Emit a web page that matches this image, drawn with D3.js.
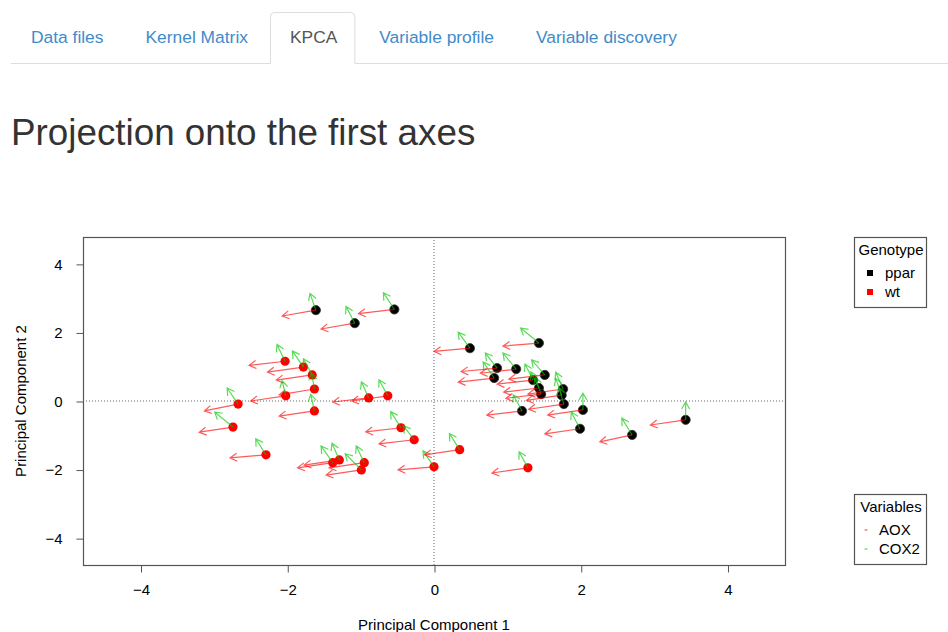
<!DOCTYPE html>
<html>
<head>
<meta charset="utf-8">
<script src="https://cdn.jsdelivr.net/npm/d3@7"></script>
<style>
  body { margin: 0; background: #fff; }
  svg { display: block; font-family: "Liberation Sans", Arial, sans-serif; }
</style>
</head>
<body>
<svg width="948" height="632"></svg>
<script>
// вкладки и заголовок
const tabs = ["Data files", "Kernel Matrix", "KPCA", "Variable profile", "Variable discovery"];
const activeTab = "KPCA";
const title = "Projection onto the first axes";

// подписи осей и легенд
const axisTicks = [-4, -2, 0, 2, 4];
const xLabel = "Principal Component 1";
const yLabel = "Principal Component 2";
const genotypes = ["ppar", "wt"];
const variables = ["AOX", "COX2"];

// ppar - координаты проекции
const pparPC1 = [-1.61, -1.08, -0.54, 0.49, 1.43, 0.86, 1.12, 0.82, 1.51, 1.35, 1.43, 1.46, 1.76, 1.74, 1.77, 1.20, 2.03, 3.43, 1.99, 2.70];
const pparPC2 = [2.65, 2.27, 2.67, 1.54, 1.69, 0.96, 0.93, 0.67, 0.76, 0.61, 0.38, 0.20, 0.35, 0.17, -0.09, -0.29, -0.26, -0.55, -0.81, -0.99];
// ppar - стрелки переменных (смещение от точки)
const pparAoxDx = [-0.46, -0.46, -0.49, -0.49, -0.49, -0.49, -0.49, -0.49, -0.49, -0.49, -0.48, -0.48, -0.48, -0.48, -0.48, -0.48, -0.48, -0.48, -0.48, -0.44];
const pparAoxDy = [-0.17, -0.17, -0.12, -0.09, -0.09, -0.10, -0.12, -0.12, -0.12, -0.12, -0.12, -0.12, -0.15, -0.15, -0.15, -0.12, -0.15, -0.15, -0.15, -0.20];
const pparCox2Dx = [-0.08, -0.12, -0.15, -0.16, -0.25, -0.16, -0.18, -0.15, -0.18, -0.11, -0.11, -0.08, -0.10, -0.08, -0.07, -0.12, 0.00, 0.00, -0.12, -0.14];
const pparCox2Dy = [0.49, 0.49, 0.49, 0.47, 0.44, 0.44, 0.47, 0.47, 0.44, 0.47, 0.47, 0.49, 0.49, 0.49, 0.49, 0.47, 0.49, 0.52, 0.49, 0.49];

// wt - координаты проекции
const wtPC1 = [-2.03, -1.78, -1.66, -1.63, -2.02, -2.67, -0.89, -0.63, -1.63, -2.74, -2.29, -0.45, -0.27, 0.00, -1.38, -1.29, -0.95, -0.99, 0.35, 1.28];
const wtPC2 = [1.16, 0.99, 0.76, 0.35, 0.15, -0.09, 0.09, 0.15, -0.29, -0.76, -1.57, -0.78, -1.13, -1.92, -1.80, -1.72, -1.80, -2.01, -1.42, -1.95];
const wtAoxDx = [-0.49, -0.49, -0.49, -0.48, -0.48, -0.46, -0.49, -0.49, -0.48, -0.46, -0.49, -0.48, -0.48, -0.49, -0.48, -0.48, -0.48, -0.48, -0.48, -0.49];
const wtAoxDy = [-0.12, -0.15, -0.15, -0.17, -0.15, -0.20, -0.12, -0.15, -0.15, -0.15, -0.09, -0.12, -0.12, -0.09, -0.15, -0.15, -0.15, -0.15, -0.15, -0.15];
const wtCox2Dx = [-0.11, -0.15, -0.12, -0.04, -0.05, -0.15, -0.10, -0.12, -0.05, -0.25, -0.14, -0.14, -0.15, -0.15, -0.16, -0.10, -0.11, -0.22, -0.14, -0.12];
const wtCox2Dy = [0.49, 0.47, 0.47, 0.47, 0.44, 0.47, 0.47, 0.47, 0.49, 0.44, 0.47, 0.47, 0.41, 0.47, 0.49, 0.49, 0.49, 0.47, 0.47, 0.47];

const genoColor = { ppar: "#000000", wt: "#ff0000" };
const varColor = { AOX: "rgba(255,0,0,0.65)", COX2: "rgba(0,200,0,0.65)" };

function buildPoints(geno, pc1, pc2, aDx, aDy, cDx, cDy) {
  return pc1.map((x, i) => ({
    geno: geno, x: x, y: pc2[i],
    arrows: [
      { v: "AOX", dx: aDx[i], dy: aDy[i] },
      { v: "COX2", dx: cDx[i], dy: cDy[i] }
    ]
  }));
}

const points = [
  ...buildPoints("ppar", pparPC1, pparPC2, pparAoxDx, pparAoxDy, pparCox2Dx, pparCox2Dy),
  ...buildPoints("wt", wtPC1, wtPC2, wtAoxDx, wtAoxDy, wtCox2Dx, wtCox2Dy)
];

const svg = d3.select("svg");

function drawTabs() {
  const g = svg.append("g");
  const fs = 17.4, padX = 19, gap = 4, top = 12, bottom = 63;
  let x = 11;
  g.append("line")
    .attr("x1", 11).attr("x2", 948).attr("y1", bottom + 0.5).attr("y2", bottom + 0.5)
    .attr("stroke", "#ddd");
  tabs.forEach(t => {
    const txt = g.append("text")
      .attr("x", x + padX + 1).attr("y", 43)
      .attr("font-size", fs)
      .attr("fill", t === activeTab ? "#555" : "#428bca")
      .text(t);
    const w = txt.node().getComputedTextLength() + 2 * padX;
    if (t === activeTab) {
      const r = 4, x0 = x + 0.5, x1 = x + w - 0.5, y0 = top + 0.5, y1 = bottom + 0.5;
      g.insert("path", "text")
        .attr("d", `M${x0},${y1} V${y0 + r} Q${x0},${y0} ${x0 + r},${y0} H${x1 - r} Q${x1},${y0} ${x1},${y0 + r} V${y1}`)
        .attr("fill", "#fff").attr("stroke", "#ddd");
      g.insert("line", "text")
        .attr("x1", x1 - 0.5).attr("x2", x0 + 0.5).attr("y1", y1).attr("y2", y1)
        .attr("stroke", "#fff");
    }
    x += w + gap;
  });
}

function drawTitle() {
  svg.append("text")
    .attr("x", 11).attr("y", 145)
    .attr("font-size", 36.8)
    .attr("fill", "#333")
    .text(title);
}

function drawPlot() {
  const area = { left: 83, right: 785, top: 237, bottom: 565 };
  const lim = 4.6 * 1.04;
  const scX = d3.scaleLinear().domain([-lim, lim]).range([area.left, area.right]);
  const scY = d3.scaleLinear().domain([-lim, lim]).range([area.bottom, area.top]);
  const fs = 15;

  // рамка
  svg.append("rect")
    .attr("x", area.left + 0.5).attr("y", area.top + 0.5)
    .attr("width", area.right - area.left).attr("height", area.bottom - area.top)
    .attr("fill", "none").attr("stroke", "#555").attr("stroke-width", 1.2);

  // оси
  const axisX = d3.axisBottom(scX).tickValues(axisTicks).tickSize(7).tickSizeOuter(0).tickPadding(12);
  const gx = svg.append("g").attr("transform", `translate(0.5, ${area.bottom + 0.5})`).call(axisX);
  gx.select(".domain").attr("d", `M${scX(-4)},0H${scX(4)}`).attr("stroke", "#555");
  gx.selectAll("line").attr("stroke", "#555");
  gx.selectAll("text").attr("font-size", fs).attr("font-family", null).attr("fill", "#000");

  const axisY = d3.axisLeft(scY).tickValues(axisTicks).tickSize(7).tickSizeOuter(0).tickPadding(14);
  const gy = svg.append("g").attr("transform", `translate(${area.left + 0.5}, 0.5)`).call(axisY);
  gy.select(".domain").attr("d", `M0,${scY(-4)}V${scY(4)}`).attr("stroke", "#555");
  gy.selectAll("line").attr("stroke", "#555");
  gy.selectAll("text").attr("font-size", fs).attr("font-family", null).attr("fill", "#000");

  // подписи осей
  svg.append("text")
    .attr("x", (area.left + area.right) / 2).attr("y", 630)
    .attr("text-anchor", "middle").attr("font-size", fs)
    .text(xLabel);
  svg.append("text")
    .attr("transform", `translate(26, ${(area.top + area.bottom) / 2}) rotate(-90)`)
    .attr("text-anchor", "middle").attr("font-size", fs)
    .text(yLabel);

  // пунктир через ноль
  svg.append("line")
    .attr("x1", scX(0)).attr("x2", scX(0)).attr("y1", area.top).attr("y2", area.bottom)
    .attr("stroke", "#666").attr("stroke-dasharray", "1,2");
  svg.append("line")
    .attr("x1", area.left).attr("x2", area.right).attr("y1", scY(0)).attr("y2", scY(0))
    .attr("stroke", "#666").attr("stroke-dasharray", "1,2");

  // точки
  svg.append("g").selectAll("circle")
    .data(points)
    .enter()
    .append("circle")
    .attr("cx", d => scX(d.x))
    .attr("cy", d => scY(d.y))
    .attr("r", 4.6)
    .attr("fill", d => genoColor[d.geno])
    .attr("stroke", d => d.geno === "ppar" ? "#333" : "none")
    .attr("stroke-width", 0.8);

  // стрелки
  const headLen = 8, headAng = Math.PI / 6;
  const arrows = points.flatMap(p => p.arrows.map(a => ({ p: p, a: a })));
  svg.append("g").selectAll("path")
    .data(arrows)
    .enter()
    .append("path")
    .attr("d", d => {
      const x0 = scX(d.p.x), y0 = scY(d.p.y);
      const x1 = scX(d.p.x + d.a.dx), y1 = scY(d.p.y + d.a.dy);
      const ang = Math.atan2(y1 - y0, x1 - x0);
      const hx1 = x1 - headLen * Math.cos(ang - headAng), hy1 = y1 - headLen * Math.sin(ang - headAng);
      const hx2 = x1 - headLen * Math.cos(ang + headAng), hy2 = y1 - headLen * Math.sin(ang + headAng);
      return `M${x0},${y0}L${x1},${y1}M${hx1},${hy1}L${x1},${y1}L${hx2},${hy2}`;
    })
    .attr("fill", "none")
    .attr("stroke", d => varColor[d.a.v])
    .attr("stroke-width", 1.2);

  // легенды
  drawLegend(854, 237, "Genotype", genotypes, 16, 31, (g, key, cx, cy) => {
    g.append("rect")
      .attr("x", cx - 3).attr("y", cy - 3).attr("width", 6).attr("height", 6)
      .attr("fill", genoColor[key]);
  });
  drawLegend(854, 494, "Variables", variables, 12, 25, (g, key, cx, cy) => {
    g.append("line")
      .attr("x1", cx - 1.5).attr("x2", cx + 1.5).attr("y1", cy).attr("y2", cy)
      .attr("stroke", varColor[key]).attr("stroke-width", 1.2);
  });
}

function drawLegend(x, y, head, keys, markX, textX, marker) {
  const g = svg.append("g");
  const w = 72, h = 70, fs = 15;
  g.append("rect")
    .attr("x", x + 0.5).attr("y", y + 0.5).attr("width", w).attr("height", h)
    .attr("fill", "#fff").attr("stroke", "#555").attr("stroke-width", 1.2);
  g.append("text")
    .attr("x", x + w / 2 + 1).attr("y", y + 18)
    .attr("text-anchor", "middle").attr("font-size", fs)
    .text(head);
  keys.forEach((k, i) => {
    const cy = y + 36 + i * 19;
    marker(g, k, x + markX, cy);
    g.append("text")
      .attr("x", x + textX).attr("y", cy + 5)
      .attr("font-size", fs)
      .text(k);
  });
}

drawTabs();
drawTitle();
drawPlot();
</script>
</body>
</html>
